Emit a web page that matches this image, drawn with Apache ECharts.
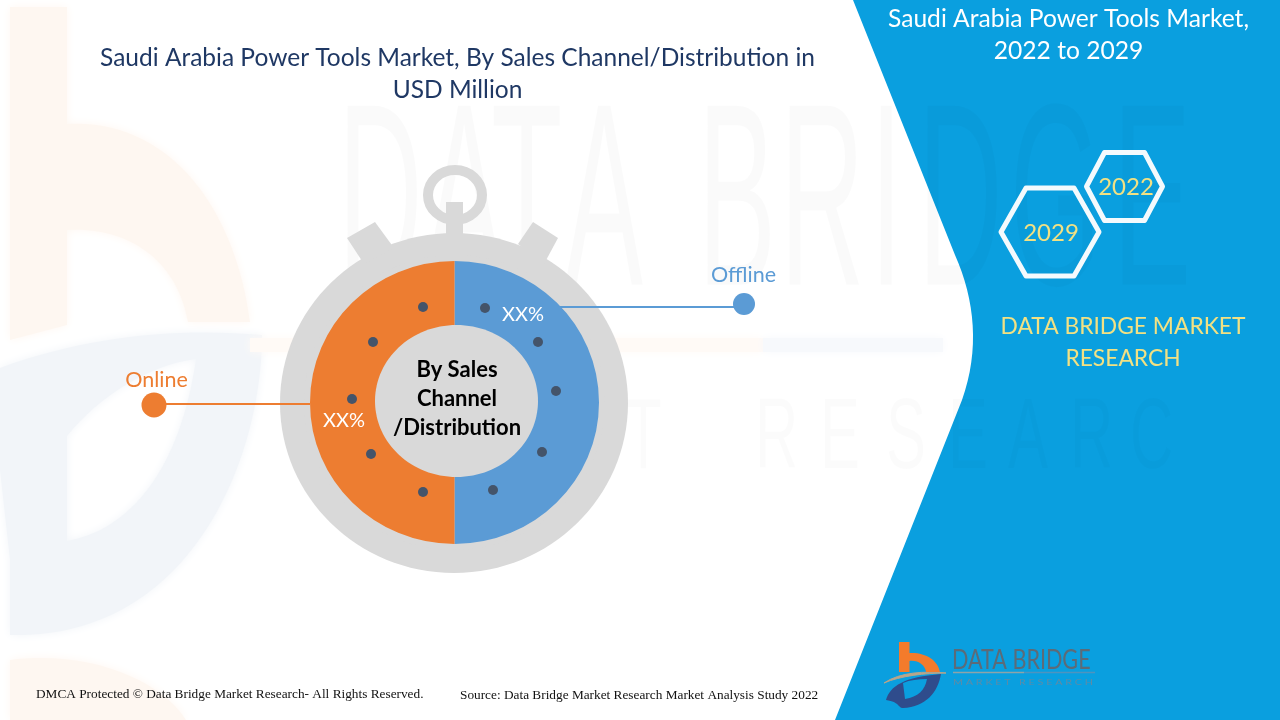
<!DOCTYPE html>
<html><head><meta charset="utf-8">
<style>html,body{margin:0;padding:0;background:#fff}#c{width:1280px;height:720px}</style>
<script src="https://cdn.jsdelivr.net/npm/echarts@6/dist/echarts.min.js"></script>
</head><body><div id="c"></div>
<script>
const categories = ['Offline', 'Online'];
const shares = [50, 50];
const shareLabels = ['XX%', 'XX%'];
const chartTitle = 'Saudi Arabia Power Tools Market, By Sales Channel/Distribution in\nUSD Million';
const centerText = 'By Sales\nChannel\n/Distribution';
const panelTitle = 'Saudi Arabia Power Tools Market,\n2022 to 2029';
const panelBrand = 'DATA BRIDGE MARKET\nRESEARCH';
const years = ['2029', '2022'];
const footerLeft = 'DMCA Protected © Data Bridge Market Research- All Rights Reserved.';
const footerRight = 'Source: Data Bridge Market Research Market Analysis Study 2022';

const ORANGE = '#ED7D31', BLUE = '#5B9BD5', GREY = '#D9D9D9', DOT = '#44546A', PANEL = '#0A9FDF', YEL = '#F2E183';
const SANS = 'Lato, "Open Sans", sans-serif';
const g = [];
const wm = 'rgba(0,0,0,0.018)';
let shapeId = 0;

function rawPath(d, style, z) {
  const name = 'svgShape' + (shapeId++);
  echarts.graphic.registerShape(name, echarts.graphic.extendPath(d, {}));
  g.push({ type: name, style, z, silent: true });
}
function txt(text, x, y, font, fill, align, z, extra) {
  g.push(Object.assign({ type: 'text', x, y, z, silent: true, style: Object.assign({ text, font, fill, textAlign: align || 'left', textVerticalAlign: 'middle' }, extra && extra.style) }, extra && extra.el));
}
function hex(cx, cy, rx, inset, ry, z) {
  g.push({ type: 'polygon', shape: { points: [[cx-rx,cy],[cx-inset,cy-ry],[cx+inset,cy-ry],[cx+rx,cy],[cx+inset,cy+ry],[cx-inset,cy+ry]] },
    style: { fill: 'none', stroke: '#F4FAFD', lineWidth: 5, lineJoin: 'round' }, z, silent: true });
}

// big faint logo
const soft = c => ({ fill: c, shadowBlur: 10, shadowColor: c });
rawPath('M10 7 L67 7 L67 124 C170 118 236 210 250 322 L188 322 C178 262 130 226 67 230 L67 325 L10 340 Z', soft('#FEF7F1'), 0);
rawPath('M0 368 C90 335 180 328 262 335 C262 460 190 640 10 635 L10 560 L67 541 C130 530 180 470 196 359 C150 365 100 395 67 436 L67 541 L10 560 L0 470 Z', soft('#F2F5F9'), 0);
rawPath('M10 660 C90 650 160 680 186 720 L10 720 Z', soft('#FEF7F1'), 0);
g.push({ type: 'rect', shape: { x: 250, y: 338, width: 513, height: 14 }, style: soft('#FFFAF6'), z: 0, silent: true });
g.push({ type: 'rect', shape: { x: 763, y: 338, width: 180, height: 14 }, style: soft('#F7F9FC'), z: 0, silent: true });

// right panel
rawPath('M853 0 L955 255 C975 300 980 350 962 400 L835 720 L1280 720 L1280 0 Z', { fill: PANEL }, 1);

// watermark letters
const wmStyle = { style: { shadowBlur: 8, shadowColor: wm } };
[['D',338],['A',425],['T',491],['A',565],['B',698],['R',780],['I',870],['D',918],['G',1010],['E',1113]].forEach(([c, x]) =>
  txt(c, x, 213, '260px "Liberation Sans"', wm, 'left', 2, Object.assign({ el: { scaleX: 0.45 } }, wmStyle)));
[['R',755],['E',820],['S',886],['E',948],['A',1008],['R',1070],['C',1130],['T',625]].forEach(([c, x]) =>
  txt(c, x, 440, '100px "Liberation Sans"', 'rgba(0,0,0,0.014)', 'left', 2, Object.assign({ el: { scaleX: 0.6 } }, wmStyle)));

// stopwatch body
g.push({ type: 'ellipse', shape: { cx: 454, cy: 403, rx: 174, ry: 170 }, style: { fill: GREY }, z: 3, silent: true });
g.push({ type: 'ellipse', shape: { cx: 455, cy: 195, rx: 27, ry: 25 }, style: { fill: 'none', stroke: GREY, lineWidth: 10 }, z: 3, silent: true });
rawPath('M446 202 L463 202 L463 240 L446 240 Z', { fill: GREY }, 3);
rawPath('M347 238 L375 222 L394 248 L364 264 Z', { fill: GREY }, 3);
rawPath('M518 244 L533 222 L558 238 L544 264 Z', { fill: GREY }, 3);

// gives the round ring its slightly oval edge, as in the source
g.push({ type: 'ellipse', shape: { cx: 454.5, cy: 402.5, rx: 147.5, ry: 144.5 }, style: { fill: 'none', stroke: GREY, lineWidth: 6 }, z: 6, silent: true });
// centre cap, dots, leaders
g.push({ type: 'ellipse', shape: { cx: 456.5, cy: 401, rx: 81.5, ry: 76 }, style: { fill: GREY }, z: 10, silent: true });
txt(centerText, 457, 398.5, 'bold 22px ' + SANS, '#000', 'center', 11, { style: { lineHeight: 29 } });
[[423,307],[373,342],[352,399],[371,454],[423,492],[485,308],[538,342],[556,391],[542,452],[493,490]].forEach(([x, y]) =>
  g.push({ type: 'circle', shape: { cx: x, cy: y, r: 5 }, style: { fill: DOT }, z: 11, silent: true }));
g.push({ type: 'line', shape: { x1: 560, y1: 307, x2: 744, y2: 307 }, style: { stroke: BLUE, lineWidth: 2 }, z: 11, silent: true });
g.push({ type: 'circle', shape: { cx: 744, cy: 304, r: 11 }, style: { fill: BLUE }, z: 11, silent: true });
g.push({ type: 'line', shape: { x1: 154, y1: 404, x2: 310, y2: 404 }, style: { stroke: ORANGE, lineWidth: 2 }, z: 11, silent: true });
g.push({ type: 'circle', shape: { cx: 154, cy: 405, r: 12.5 }, style: { fill: ORANGE }, z: 11, silent: true });
txt(categories[0], 743.5, 275.5, '21.5px ' + SANS, BLUE, 'center', 11);
txt(categories[1], 156.5, 380.5, '21.5px ' + SANS, ORANGE, 'center', 11);

// panel text
txt(panelTitle, 1068.5, 35.5, '24.6px ' + SANS, '#fff', 'center', 11, { style: { lineHeight: 32 } });
hex(1050, 232, 49, 24, 44, 11);
hex(1124.5, 186.5, 38, 20, 34, 11);
txt(years[0], 1051, 233, '24px ' + SANS, YEL, 'center', 11);
txt(years[1], 1126, 187, '24px ' + SANS, YEL, 'center', 11);
txt(panelBrand, 1123, 342.5, '22.8px ' + SANS, YEL, 'center', 11, { style: { lineHeight: 32 } });

// footer
txt(footerLeft, 36, 694.5, '13.3px "Liberation Serif"', '#111', 'left', 11);
txt(footerRight, 460, 695.5, '13.3px "Liberation Serif"', '#111', 'left', 11);

// small logo
rawPath('M886 700 C890 686 904 677 941 674 C938 692 926 707 903 708 C898 708 900 702 886 700 Z', { fill: '#2F4C8C' }, 11);
rawPath('M903 683 C910 680 918 679 927 679 C925 690 918 697 905 699 Z', { fill: PANEL }, 12);
rawPath('M884 683 C900 672 925 671 946 673 C925 673 900 676 884 683 Z', { fill: '#B9A58A', stroke: '#B9A58A', lineWidth: 1 }, 12);
rawPath('M899 642 L909.5 642 L909.5 653 C925 652 938 660 940 672 L926 672 C925 665 918 660 909.5 661 L909.5 672 L899 672 Z', { fill: '#F47B2B' }, 13);
txt('DATA BRIDGE', 952, 661, '26px ' + SANS, '#5C6B78', 'left', 11, { el: { scaleX: 0.83 } });
g.push({ type: 'line', shape: { x1: 953, y1: 672.5, x2: 1024, y2: 672.5 }, style: { stroke: '#8FA3A8', lineWidth: 1.5 }, z: 11, silent: true });
g.push({ type: 'line', shape: { x1: 1024, y1: 672.5, x2: 1095, y2: 672.5 }, style: { stroke: '#4F93BE', lineWidth: 1.5 }, z: 11, silent: true });
txt('M A R K E T   R E S E A R C H', 953, 683, '7.5px ' + SANS, '#5C8CA8', 'left', 11, { el: { scaleX: 1.44 } });

const chart = echarts.init(document.getElementById('c'), null, { renderer: 'canvas' });
chart.setOption({
  animation: false,
  backgroundColor: '#fff',
  title: {
    text: chartTitle, left: 452.5, top: 37, textAlign: 'center', z: 20,
    textStyle: { fontFamily: SANS, fontSize: 24.5, fontWeight: 'normal', color: '#1F3864', lineHeight: 32 }
  },
  graphic: { elements: g },
  series: [{
    type: 'pie', center: [454.5, 402.5], radius: [60, 146], startAngle: 90, clockwise: true, z: 5,
    silent: true,
    data: categories.map((name, i) => ({ name, value: shares[i], itemStyle: { color: [BLUE, ORANGE][i] } })),
    label: { show: true, position: 'inside', formatter: p => shareLabels[p.dataIndex], fontFamily: SANS, fontSize: 20, color: '#fff', textBorderWidth: 0 },
    labelLine: { show: false },
    labelLayout: p => p.dataIndex === 0 ? { x: 523, y: 315, align: 'center', verticalAlign: 'middle' } : { x: 344, y: 421, align: 'center', verticalAlign: 'middle' }
  }]
});
</script></body></html>
